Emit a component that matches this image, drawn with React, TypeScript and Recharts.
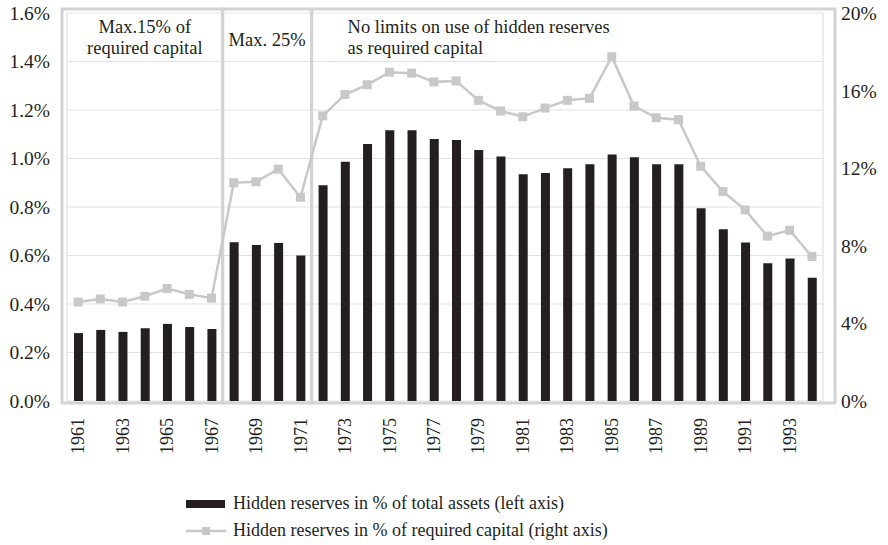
import React from "react";
import {
  ComposedChart,
  Bar,
  Line,
  XAxis,
  YAxis,
  CartesianGrid,
  ReferenceArea,
  Legend,
} from "recharts";

const years = [
  "1961", "1962", "1963", "1964", "1965", "1966", "1967", "1968", "1969", "1970",
  "1971", "1972", "1973", "1974", "1975", "1976", "1977", "1978", "1979", "1980",
  "1981", "1982", "1983", "1984", "1985", "1986", "1987", "1988", "1989", "1990",
  "1991", "1992", "1993", "1994",
];

// hidden reserves in % of total assets (left axis)
const assetsPct = [
  0.28, 0.293, 0.285, 0.3, 0.318, 0.305, 0.297, 0.655, 0.643, 0.652, 0.6,
  0.89, 0.987, 1.06, 1.117, 1.117, 1.08, 1.076, 1.035, 1.008, 0.935, 0.94, 0.96, 0.976,
  1.017, 1.005, 0.976, 0.976, 0.795, 0.708, 0.654, 0.568, 0.588, 0.508,
];

// hidden reserves in % of required capital (right axis)
const capitalPct = [
  5.1, 5.26, 5.1, 5.4, 5.8, 5.5, 5.3, 11.25, 11.3, 11.95, 10.5,
  14.7, 15.8, 16.3, 16.95, 16.9, 16.45, 16.5, 15.5, 14.95, 14.65, 15.1, 15.5, 15.6,
  17.75, 15.2, 14.6, 14.5, 12.1, 10.8, 9.85, 8.5, 8.8, 7.45,
];

const leftTicks = [0, 0.2, 0.4, 0.6, 0.8, 1.0, 1.2, 1.4, 1.6];
const rightTicks = [0, 4, 8, 12, 16, 20];

const regionStart = ["1961", "1968", "1972"];
const regionEnd = ["1967", "1971", "1994"];
const regionText = [
  ["Max.15% of", "required capital"],
  ["Max. 25%"],
  ["No limits on use of hidden reserves", "as required capital"],
];

const seriesNames = [
  "Hidden reserves in % of total assets (left axis)",
  "Hidden reserves in % of required capital (right axis)",
];

const data = years.map((year, i) => ({
  year,
  assets: assetsPct[i],
  capital: capitalPct[i],
}));

const FONT = '"Liberation Serif", "Times New Roman", serif';
const INK = "#231f20";
const LINE_GREY = "#c8c8c8";
const FRAME_GREY = "#d3d3d3";

const YearTick = (props: any) => {
  const { x, y, payload } = props;
  return (
    <text
      x={x}
      y={y}
      transform={`rotate(-90, ${x}, ${y})`}
      textAnchor="end"
      dy="0.34em"
      style={{ fontFamily: FONT }}
      fontSize={18}
      fill={INK}
    >
      {payload.value}
    </text>
  );
};

const SquareDot = (props: any) => {
  const { cx, cy } = props;
  if (cx == null || cy == null) return null;
  return <rect x={cx - 4.5} y={cy - 4.5} width={9} height={9} fill={LINE_GREY} />;
};

const makeRegionShape = (idx: number) => (props: any) => {
  const { x, y, width, height } = props;
  const padL = idx === 0 ? 5 : 0;
  const padR = idx === regionStart.length - 1 ? 12 : 0;
  const lines = regionText[idx];
  const left = idx === 2;
  return (
    <g>
      <rect
        x={x - padL}
        y={y - 4}
        width={width + padL + padR}
        height={height + 6}
        fill="none"
        stroke={FRAME_GREY}
        strokeWidth={3}
      />
      {lines.map((t, k) => (
        <text
          key={k}
          x={left ? x + 36 : x + width / 2}
          y={lines.length === 1 ? y + 33 : y + 20 + k * 21}
          textAnchor={left ? "start" : "middle"}
          style={{ fontFamily: FONT }}
          fontSize={18.5}
          fill={INK}
        >
          {t}
        </text>
      ))}
    </g>
  );
};

const LegendBox = () => (
  <div style={{ paddingTop: 19, paddingLeft: 186, fontFamily: FONT, fontSize: 18, color: INK }}>
    <div style={{ height: 27, display: "flex", alignItems: "center" }}>
      <svg width={47} height={10}>
        <rect x={0} y={1} width={39} height={8} fill={INK} />
      </svg>
      <span>{seriesNames[0]}</span>
    </div>
    <div style={{ height: 27, display: "flex", alignItems: "center" }}>
      <svg width={47} height={10}>
        <line x1={0} y1={5} x2={40} y2={5} stroke={LINE_GREY} strokeWidth={2.5} />
        <rect x={16} y={1} width={8} height={8} fill={LINE_GREY} />
      </svg>
      <span>{seriesNames[1]}</span>
    </div>
  </div>
);

export default function App() {
  return (
    <div style={{ position: "absolute", left: 0, top: 0, background: "#fff", fontFamily: FONT }}>
      <ComposedChart
        width={888}
        height={545}
        data={data}
        margin={{ top: 13, right: 0, bottom: 0, left: 0 }}
        style={{ fontFamily: FONT }}
      >
        <CartesianGrid yAxisId="left" vertical={false} stroke="#e2e2e2" />
        <XAxis
          dataKey="year"
          interval={1}
          tickLine={false}
          axisLine={false}
          tickSize={0}
          tickMargin={17}
          height={70}
          tick={<YearTick />}
        />
        <YAxis
          yAxisId="left"
          domain={[0, 1.6]}
          ticks={leftTicks}
          tickFormatter={(v: number) => `${v.toFixed(1)}%`}
          width={67}
          axisLine={{ stroke: "#dadada" }}
          tickLine={false}
          tickSize={0}
          tickMargin={17}
          tick={{ fontFamily: FONT, fontSize: 19.5, fill: INK }}
        />
        <YAxis
          yAxisId="right"
          orientation="right"
          domain={[0, 20]}
          ticks={rightTicks}
          tickFormatter={(v: number) => `${v}%`}
          width={65}
          axisLine={{ stroke: "#dadada" }}
          tickLine={false}
          tickSize={0}
          tickMargin={18}
          tick={{ fontFamily: FONT, fontSize: 19.5, fill: INK }}
        />
        {regionStart.map((s, i) => (
          <ReferenceArea
            key={s}
            yAxisId="left"
            x1={s}
            x2={regionEnd[i]}
            ifOverflow="visible"
            shape={makeRegionShape(i)}
          />
        ))}
        <Bar
          yAxisId="left"
          dataKey="assets"
          name={seriesNames[0]}
          fill={INK}
          barSize={9}
          isAnimationActive={false}
        />
        <Line
          yAxisId="right"
          dataKey="capital"
          name={seriesNames[1]}
          type="linear"
          stroke={LINE_GREY}
          strokeWidth={2.5}
          dot={<SquareDot />}
          activeDot={false}
          isAnimationActive={false}
        />
        <Legend
          verticalAlign="bottom"
          height={74}
          wrapperStyle={{ left: 0, width: 888 }}
          content={<LegendBox />}
        />
      </ComposedChart>
    </div>
  );
}
